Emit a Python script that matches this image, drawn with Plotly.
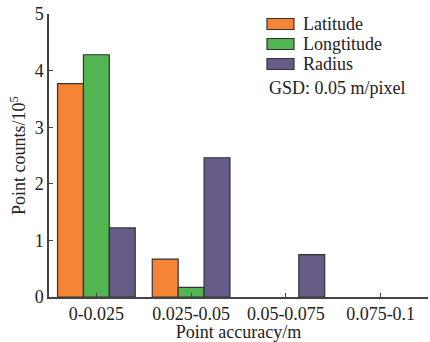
import plotly.graph_objects as go

categories = ["0-0.025", "0.025-0.05", "0.05-0.075", "0.075-0.1"]
series_names = ["Latitude", "Longtitude", "Radius"]
latitude = [3.77, 0.67, 0, 0]
longtitude = [4.28, 0.17, 0, 0]
radius = [1.22, 2.46, 0.75, 0]
colors = ["#F58434", "#52B552", "#675B87"]
note_text = "GSD: 0.05 m/pixel"

W, H = 430, 342
ML, MR, MT, MB = 49, 2, 14, 45
PW, PH = W - ML - MR, H - MT - MB

FONT = "Liberation Serif"
AX = "#444444"

fig = go.Figure()
for name, vals, col in zip(series_names, [latitude, longtitude, radius], colors):
    fig.add_trace(go.Bar(
        x=categories, y=vals, name=name,
        marker=dict(color=col,
                    line=dict(color="#333333",
                              width=[1.2 if v > 0 else 0 for v in vals])),
        showlegend=False,
    ))

def px_x(p):
    return (p - ML) / PW

def px_y(p):
    return (H - MB - p) / PH

shapes = []
annotations = []
for i, (name, col) in enumerate(zip(series_names, colors)):
    yc = 24 + 20 * i
    shapes.append(dict(type="rect", xref="paper", yref="paper",
                       x0=px_x(267), x1=px_x(294), y0=px_y(yc + 5.5), y1=px_y(yc - 5.5),
                       fillcolor=col, line=dict(color="#333333", width=1.2)))
    annotations.append(dict(text=name, xref="paper", yref="paper",
                            x=px_x(301), y=px_y(yc), xanchor="left", yanchor="middle",
                            showarrow=False, font=dict(family=FONT, size=18, color="#222")))
annotations.append(dict(text=note_text, xref="paper", yref="paper",
                        x=px_x(267), y=px_y(88), xanchor="left", yanchor="middle",
                        showarrow=False, font=dict(family=FONT, size=18, color="#222")))

fig.update_layout(
    width=W, height=H,
    margin=dict(l=ML, r=MR, t=MT, b=MB),
    plot_bgcolor="white", paper_bgcolor="white",
    barmode="group", bargap=0.18, bargroupgap=0,
    font=dict(family=FONT, size=18, color="#222"),
    shapes=shapes, annotations=annotations,
    xaxis=dict(
        range=[-0.5, 3.5], showline=True, linecolor=AX, linewidth=1.5,
        ticks="inside", ticklen=4, tickcolor=AX, tickwidth=1.2,
        tickfont=dict(family=FONT, size=18, color="#222"),
        title=dict(text="Point accuracy/m", standoff=8,
                   font=dict(family=FONT, size=18, color="#222")),
        showgrid=False, zeroline=False, automargin=False,
    ),
    yaxis=dict(
        range=[0, 5], dtick=1, showline=True, linecolor=AX, linewidth=1.5,
        ticks="inside", ticklen=4, tickcolor=AX, tickwidth=1.2,
        tickfont=dict(family=FONT, size=18, color="#222"),
        title=dict(text="Point counts/10<sup>5</sup>", standoff=4,
                   font=dict(family=FONT, size=18, color="#222")),
        showgrid=False, zeroline=False, automargin=False,
    ),
)

fig.write_html("out.html")
